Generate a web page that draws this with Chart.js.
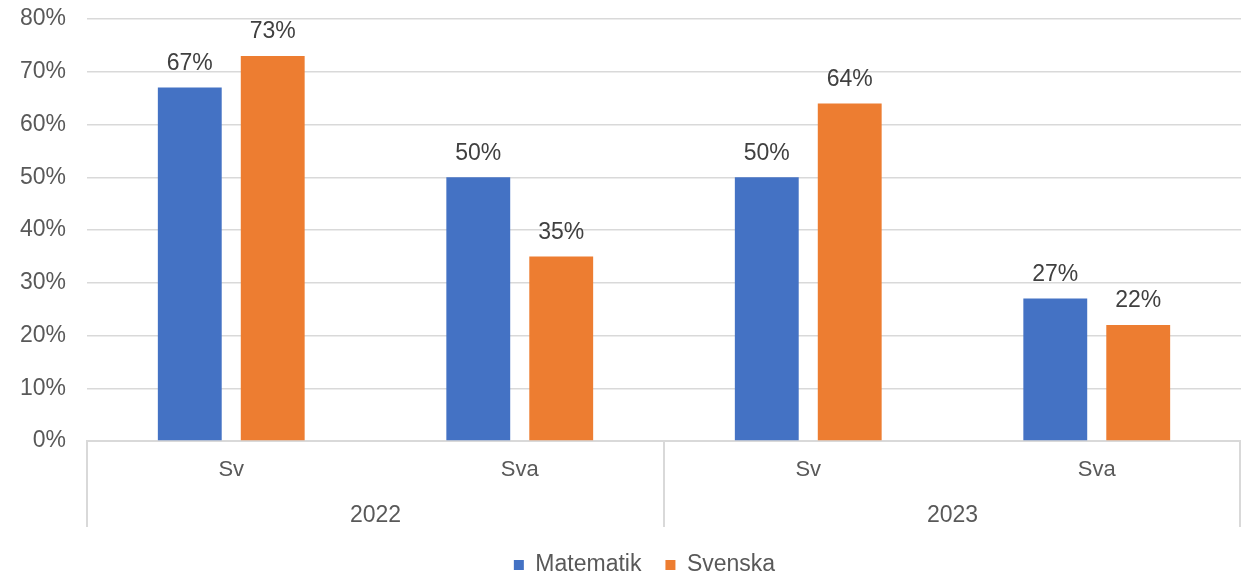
<!DOCTYPE html>
<html>
<head>
<meta charset="utf-8">
<script src="https://cdn.jsdelivr.net/npm/chart.js@4/dist/chart.umd.min.js"></script>
<style>
  html, body { margin: 0; padding: 0; background: #fff; }
  #wrap { width: 1241px; height: 577px; }
</style>
</head>
<body>
<div id="wrap"><canvas id="chart"></canvas></div>
<script>
// chart data
const categories = ['Sv', 'Sva', 'Sv', 'Sva'];
const years = ['2022', '2023'];
const matematik = [67, 50, 50, 27];
const svenska = [73, 35, 64, 22];
const yTicks = [0, 10, 20, 30, 40, 50, 60, 70, 80];

const textColor = '#595959';
const lineColor = '#d9d9d9';
const fontFamily = "'Liberation Sans', Arial, sans-serif";

// value labels above bars
const barLabels = {
  id: 'barLabels',
  afterDatasetsDraw(chart) {
    const ctx = chart.ctx;
    ctx.save();
    ctx.font = '23px ' + fontFamily;
    ctx.fillStyle = '#404040';
    ctx.textAlign = 'center';
    ctx.textBaseline = 'middle';
    chart.data.datasets.forEach((ds, i) => {
      chart.getDatasetMeta(i).data.forEach((bar, j) => {
        ctx.fillText(ds.data[j] + '%', bar.x, bar.y - 24);
      });
    });
    ctx.restore();
  }
};

// group separators + year labels under the category axis
const groupAxis = {
  id: 'groupAxis',
  afterLayout(chart) {
    // legend sits a bit right of the canvas centre in the original
    if (chart.legend) chart.legend.left = 48;
  },
  afterDraw(chart) {
    const x = chart.scales.x;
    const ctx = chart.ctx;
    const step = x.getPixelForValue(1) - x.getPixelForValue(0);
    const top = chart.chartArea.bottom;
    const bottom = top + 86;
    ctx.save();
    ctx.strokeStyle = lineColor;
    ctx.lineWidth = 2;
    const per = categories.length / years.length;
    for (let g = 0; g <= years.length; g++) {
      let px = x.getPixelForValue(g * per) - step / 2;
      if (g === years.length) px = Math.min(px, chart.width - 1);
      ctx.beginPath();
      ctx.moveTo(px, top);
      ctx.lineTo(px, bottom);
      ctx.stroke();
    }
    ctx.font = '23px ' + fontFamily;
    ctx.fillStyle = textColor;
    ctx.textAlign = 'center';
    ctx.textBaseline = 'middle';
    years.forEach((y, g) => {
      const a = x.getPixelForValue(g * per) - step / 2;
      const b = x.getPixelForValue(g * per + per - 1) + step / 2;
      ctx.fillText(y, (a + b) / 2, top + 75);
    });
    ctx.restore();
  }
};

const ctx = document.getElementById('chart').getContext('2d');
new Chart(ctx, {
  type: 'bar',
  data: {
    labels: categories,
    datasets: [
      {
        label: 'Matematik',
        data: matematik,
        backgroundColor: '#4472C4',
        categoryPercentage: 0.575,
        barPercentage: 0.77
      },
      {
        label: 'Svenska',
        data: svenska,
        backgroundColor: '#ED7D31',
        categoryPercentage: 0.575,
        barPercentage: 0.77
      }
    ]
  },
  options: {
    responsive: true,
    maintainAspectRatio: false,
    animation: false,
    layout: { padding: { top: 19, right: 0, left: 0, bottom: -9.5 } },
    plugins: {
      legend: {
        position: 'bottom',
        labels: {
          boxWidth: 10,
          boxHeight: 10,
          padding: 24,
          color: textColor,
          font: { family: fontFamily, size: 23 }
        }
      },
      tooltip: { enabled: false }
    },
    scales: {
      y: {
        min: 0,
        max: 80,
        afterBuildTicks: (scale) => { scale.ticks = yTicks.map(v => ({ value: v })); },
        afterFit: (scale) => {
          scale.width = 87;
          scale.paddingTop = 0;
          scale.paddingBottom = 0;
        },
        grid: { color: lineColor, lineWidth: 1.5, drawTicks: false },
        border: { display: false },
        ticks: {
          padding: 21,
          color: textColor,
          font: { family: fontFamily, size: 23 },
          callback: (v) => v + '%'
        }
      },
      x: {
        afterFit: (scale) => { scale.height = 88.5; },
        grid: { display: false },
        border: { color: lineColor, width: 2 },
        ticks: {
          padding: 8,
          color: textColor,
          font: { family: fontFamily, size: 22 }
        }
      }
    }
  },
  plugins: [barLabels, groupAxis]
});
</script>
</body>
</html>
